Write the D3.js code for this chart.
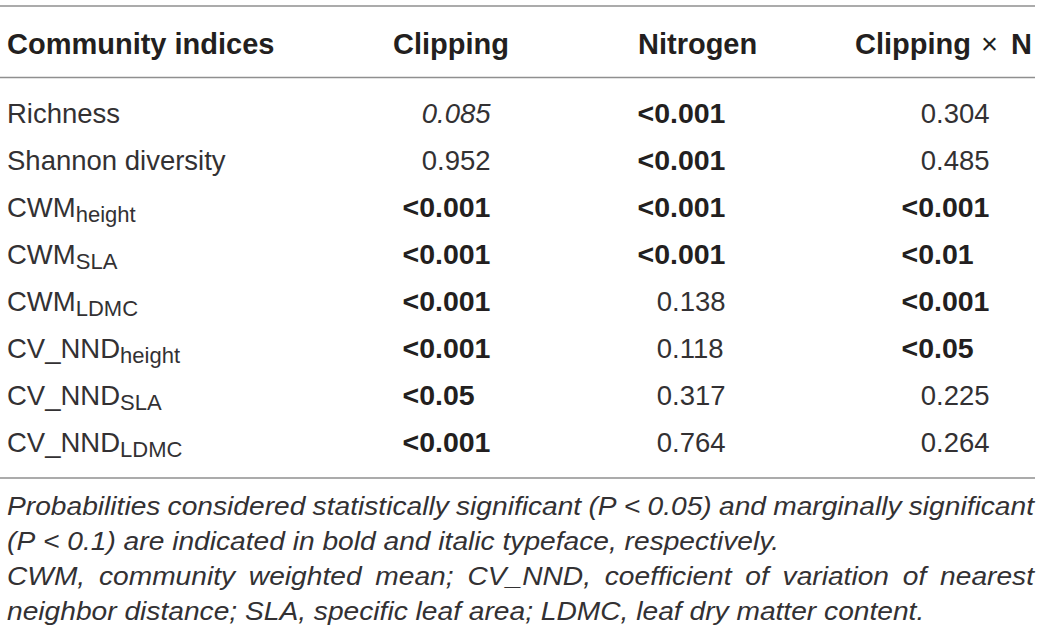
<!DOCTYPE html>
<html>
<head>
<meta charset="utf-8">
<script src="https://cdn.jsdelivr.net/npm/d3@7"></script>
<style>
  html, body { margin: 0; padding: 0; background: #fff; }
  svg { display: block; }
</style>
</head>
<body>
<svg id="chart" width="1042" height="640"></svg>
<script>
// ---------------- data ----------------
const indexNames = ["Richness", "Shannon diversity", "CWM", "CWM", "CWM", "CV_NND", "CV_NND", "CV_NND"];
const indexSubs  = ["", "", "height", "SLA", "LDMC", "height", "SLA", "LDMC"];
const columns    = ["Clipping", "Nitrogen", "Clipping × N"];
const firstHeader = "Community indices";
const clipping   = ["0.085", "0.952", "<0.001", "<0.001", "<0.001", "<0.001", "<0.05", "<0.001"];
const nitrogen   = ["<0.001", "<0.001", "<0.001", "<0.001", "0.138", "0.118", "0.317", "0.764"];
const clippingN  = ["0.304", "0.485", "<0.001", "<0.01", "<0.001", "<0.05", "0.225", "0.264"];
const footnotes  = [
  "Probabilities considered statistically significant (P < 0.05) and marginally significant",
  "(P < 0.1) are indicated in bold and italic typeface, respectively.",
  "CWM, community weighted mean; CV_NND, coefficient of variation of nearest",
  "neighbor distance; SLA, specific leaf area; LDMC, leaf dry matter content."
];
const footJustify = [true, false, true, false];

// ---------------- layout ----------------
const FONT = "'Liberation Sans', Arial, Helvetica, sans-serif";
const TEXT = "#231f20";
const TEXT_LIGHT = "#333133";
const RULE = "#8f8f8f";
const FS_REG = 27.5, FS_BOLD = 28.5, FS_SUB = 22;
const svg = d3.select("#chart");

const rowIdx = d3.range(indexNames.length);
const y = d3.scalePoint().domain(rowIdx).range([123, 452]);
const colX = d3.scaleOrdinal().domain(columns).range([437, 672, 936]);   // decimal-point x
const headX = d3.scaleOrdinal().domain(columns).range([393, 638, 855]);

// rules
const rules = [6, 77.5, 478];
svg.selectAll("line.rule").data(rules).join("line")
  .attr("class", "rule")
  .attr("x1", 0).attr("x2", 1035)
  .attr("y1", d => d).attr("y2", d => d)
  .attr("stroke", RULE).attr("stroke-width", 1.5);

// header
svg.append("text")
  .attr("x", 7).attr("y", 54)
  .attr("font-family", FONT).attr("font-size", FS_BOLD + 0.5).attr("font-weight", "bold")
  .attr("fill", TEXT).text(firstHeader);

svg.selectAll("text.head").data(columns).join("text")
  .attr("class", "head")
  .attr("x", d => headX(d)).attr("y", 54)
  .attr("font-family", FONT).attr("font-size", FS_BOLD + 0.5).attr("font-weight", "bold")
  .attr("fill", TEXT)
  .each(function(d) {
    const t = d3.select(this);
    const parts = d.split("×");
    if (parts.length === 1) { t.text(d); return; }
    t.append("tspan").text(parts[0]);
    t.append("tspan").attr("font-weight", "normal").attr("dx", 2).text("×");
    t.append("tspan").attr("dx", 5).text(parts[1]);
  });

// row labels
svg.selectAll("text.rowlab").data(rowIdx).join("text")
  .attr("class", "rowlab")
  .attr("x", 7).attr("y", i => y(i))
  .attr("font-family", FONT).attr("font-size", FS_REG)
  .attr("fill", TEXT_LIGHT)
  .each(function(i) {
    const t = d3.select(this);
    t.append("tspan").text(indexNames[i]);
    if (indexSubs[i]) {
      t.append("tspan").attr("font-size", FS_SUB).attr("dy", 5).text(indexSubs[i]);
    }
  });

// cells
const colValues = [clipping, nitrogen, clippingN];
const cells = [];
columns.forEach((c, ci) => rowIdx.forEach(ri => cells.push({ col: c, row: ri, v: colValues[ci][ri] })));

function styleOf(v) {
  if (v.startsWith("<")) return "bold";
  const p = +v;
  if (p < 0.05) return "bold";
  if (p < 0.1) return "italic";
  return "normal";
}

svg.selectAll("text.cell").data(cells).join("text")
  .attr("class", "cell")
  .attr("y", d => y(d.row))
  .attr("font-family", FONT)
  .attr("font-size", d => styleOf(d.v) === "bold" ? FS_BOLD : FS_REG)
  .attr("fill", d => styleOf(d.v) === "bold" ? TEXT : TEXT_LIGHT)
  .attr("font-weight", d => styleOf(d.v) === "bold" ? "bold" : "normal")
  .attr("font-style", d => styleOf(d.v) === "italic" ? "italic" : "normal")
  .text(d => d.v)
  .each(function(d) {
    const idx = d.v.indexOf(".");
    const pre = idx > 0 ? this.getSubStringLength(0, idx) : 0;
    const adj = styleOf(d.v) === "bold" ? -2 : 0;
    d3.select(this).attr("x", colX(d.col) - pre + adj);
  });

// footnote
const footY = d3.scalePoint().domain(d3.range(footnotes.length)).range([515, 620]);
const FS = 26;
const fg = svg.append("g")
  .attr("font-family", FONT).attr("font-size", FS).attr("font-style", "italic")
  .attr("fill", TEXT_LIGHT);

function measure(str) {
  const t = fg.append("text").attr("x", -9999).attr("y", -9999).text(str);
  const w = t.node().getComputedTextLength();
  t.remove();
  return w;
}
const left = 7, right = 1034;
// horizontal condensation fitted to the two unjustified lines
const k = ((777 - left) / measure(footnotes[1]) + (925 - left) / measure(footnotes[3])) / 2;
const spaceW = measure("a a") - measure("aa");

footnotes.forEach((line, li) => {
  const words = line.split(" ");
  const widths = words.map(w => measure(w) * k);
  const total = d3.sum(widths);
  const gap = footJustify[li] ? (right - left - total) / (words.length - 1) : spaceW * k;
  let x = left;
  words.forEach((w, wi) => {
    fg.append("text")
      .attr("x", x).attr("y", footY(li))
      .attr("textLength", widths[wi]).attr("lengthAdjust", "spacingAndGlyphs")
      .text(w);
    x += widths[wi] + gap;
  });
});
</script>
</body>
</html>
